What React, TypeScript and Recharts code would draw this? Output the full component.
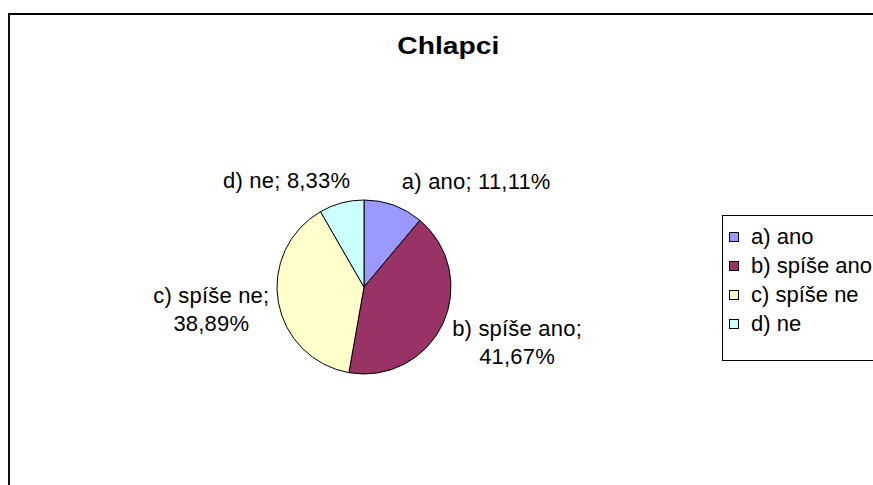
import React from 'react';
import { PieChart, Pie, Cell, Legend } from 'recharts';

const CATEGORIES = ['a) ano', 'b) spíše ano', 'c) spíše ne', 'd) ne'];
const PERCENTS = [11.11, 41.67, 38.89, 8.33];
const COLORS = ['#9999FF', '#993366', '#FFFFCC', '#CCFFFF'];
const TITLE = 'Chlapci';

const data = CATEGORIES.map((name, i) => ({ name, value: PERCENTS[i] }));

const FONT = '"Liberation Sans", Arial, sans-serif';

// label placement offsets relative to the slice's outer mid point (layout only)
const LABEL_OFFSETS = [
  { dx: 82.5, dy: -16.7 },
  { dx: 74.2, dy: 12.2 },
  { dx: -67, dy: 0.6 },
  { dx: -54.8, dy: -14.5 },
];

const fmt = (v: number) => v.toFixed(2).replace('.', ',') + '%';

const renderLabel = (props: any) => {
  const { cx, cy, midAngle, outerRadius, index, name, value } = props;
  const RAD = Math.PI / 180;
  const px = cx + outerRadius * Math.cos(-midAngle * RAD);
  const py = cy + outerRadius * Math.sin(-midAngle * RAD);
  const off = LABEL_OFFSETS[index];
  const x = px + off.dx;
  const y = py + off.dy;
  const twoLines = Math.abs(Math.cos(midAngle * RAD)) > 0.5;
  const style = { letterSpacing: 0.2, fontFamily: FONT, fontSize: 22 } as any;
  if (twoLines) {
    return (
      <text x={x} y={y} textAnchor="middle" fill="#000" style={style}>
        <tspan x={x} y={y}>{name};</tspan>
        <tspan x={x} y={y + 28}>{fmt(value)}</tspan>
      </text>
    );
  }
  return (
    <text x={x} y={y} textAnchor="middle" fill="#000" style={style}>
      {name}; {fmt(value)}
    </text>
  );
};

const LegendContent = (props: any) => {
  const payload = props.payload || [];
  return (
    <div
      style={{
        position: 'relative',
        width: 200,
        height: 146,
        border: '1px solid #000',
        boxSizing: 'border-box',
        background: '#fff',
        fontFamily: FONT,
        fontSize: 22,
        paddingTop: 6,
      }}
    >
      {payload.map((p: any, i: number) => {
        const idx = CATEGORIES.indexOf(p.value);
        return (
          <div key={i} style={{ height: 29, lineHeight: '29px', display: 'flex', alignItems: 'center', whiteSpace: 'nowrap' }}>
            <span
              style={{
                display: 'inline-block',
                width: 8,
                height: 8,
                border: '1px solid #000',
                background: COLORS[idx >= 0 ? idx : i],
                marginLeft: 6,
                marginRight: 12,
              }}
            />
            <span>{p.value}</span>
          </div>
        );
      })}
    </div>
  );
};

export default function App() {
  return (
    <div style={{ position: 'fixed', left: 0, top: 0, width: 873, height: 485, overflow: 'hidden', background: '#fff' }}>
      <div
        style={{
          position: 'absolute',
          left: 8,
          top: 13,
          width: 900,
          height: 500,
          borderLeft: '2px solid #111',
          borderTop: '2px solid #000',
        }}
      />
      <svg style={{ position: 'absolute', left: 0, top: 0 }} width={873} height={485}>
        <text
          x={448.3}
          y={54}
          textAnchor="middle"
          fontFamily={FONT}
          fontSize={23}
          fontWeight="bold"
          textLength={102}
          lengthAdjust="spacingAndGlyphs"
          fill="#000"
        >
          {TITLE}
        </text>
      </svg>
      <div style={{ position: 'absolute', left: 0, top: 0 }}>
        <PieChart width={873} height={485} margin={{ top: 0, right: 0, bottom: 0, left: 0 }}>
          <Pie
            data={data}
            dataKey="value"
            nameKey="name"
            cx={364}
            cy={287}
            outerRadius={87}
            startAngle={90}
            endAngle={-270}
            stroke="#000"
            strokeWidth={1}
            label={renderLabel}
            labelLine={false}
            isAnimationActive={false}
          >
            {data.map((d, i) => (
              <Cell key={d.name} fill={COLORS[i]} stroke="#000" strokeWidth={1} />
            ))}
          </Pie>
          <Legend
            layout="vertical"
            align="right"
            verticalAlign="middle"
            content={<LegendContent />}
            wrapperStyle={{ position: 'absolute', left: 722, top: 215, width: 200, height: 146, right: 'auto', bottom: 'auto' }}
          />
        </PieChart>
      </div>
    </div>
  );
}
